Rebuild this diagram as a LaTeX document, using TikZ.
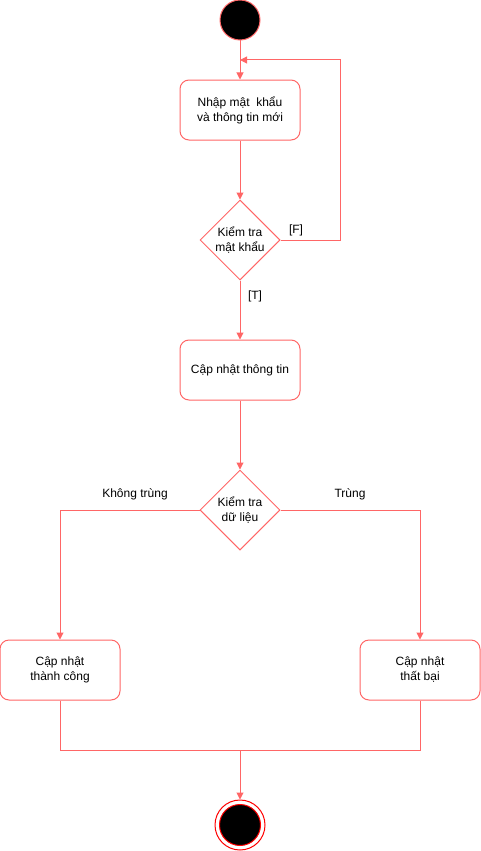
\documentclass[tikz,border=0pt]{standalone}
\usepackage{fontspec}
\setmainfont{Liberation Sans}
\usetikzlibrary{shapes.geometric,arrows.meta}
\definecolor{flowred}{HTML}{FF6666}
\begin{document}
\begin{tikzpicture}[x=1pt, y=-1pt, line width=1pt,
    every node/.style={font=\fontsize{12}{15}\selectfont, align=center},
    act/.style={draw=flowred, rounded corners=9pt, minimum width=120pt, minimum height=60pt, inner sep=0pt},
    decide/.style={draw=flowred, diamond, aspect=1, minimum size=80pt, inner sep=0pt},
    flow/.style={draw=flowred, -{Triangle[length=7pt, width=7pt]}},
    wire/.style={draw=flowred}]

\useasboundingbox (0,0) rectangle (481,851);

\draw (240, 20) node[circle, fill=black, draw=flowred, minimum size=40pt, inner sep=0pt] (start){};
\draw (240, 110) node[act] (enter){Nhập mật\ \ khẩu\\và thông tin mới};
\draw (240, 240) node[decide] (checkpw){Kiểm tra\\mật khẩu};
\draw (240, 370) node[act] (update){Cập nhật thông tin};
\draw (240, 510) node[decide] (checkdata){Kiểm tra\\dữ liệu};
\draw (60, 670) node[act] (ok){Cập nhật\\thành công};
\draw (420, 670) node[act] (fail){Cập nhật\\thất bại};
\draw (240, 825) node[circle, draw=red, fill=white, minimum size=50pt, inner sep=0pt] (stop){};
\draw (stop) node[circle, fill=black, draw=red, minimum size=41pt, inner sep=0pt] (stopdot){};

\coordinate (back) at (240, 60);
\coordinate (turn) at (340, 60);
\coordinate (merge) at (240, 750);

\draw (296, 230) node {[F]};
\draw (255, 296) node {[T]};
\draw (135, 494) node {Không trùng};
\draw (350, 494) node {Trùng};

\draw[flow] (start) -- (enter);
\draw[flow] (enter) -- (checkpw);
\draw[flow] (checkpw.east) -| (turn) -- (back);
\draw[flow] (checkpw) -- (update);
\draw[flow] (update) -- (checkdata);
\draw[flow] (checkdata.west) -| (ok.north);
\draw[flow] (checkdata.east) -| (fail.north);
\draw[wire] (ok.south) |- (merge);
\draw[wire] (fail.south) |- (merge);
\draw[flow] (merge) -- (stop);
\end{tikzpicture}
\end{document}
